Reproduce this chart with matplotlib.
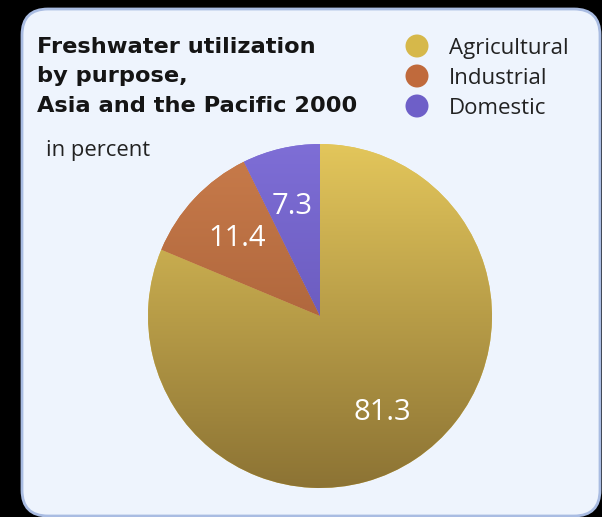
import matplotlib
matplotlib.use("Agg")
import matplotlib.pyplot as plt
import numpy as np
from matplotlib.patches import FancyBboxPatch, Circle
from matplotlib.colors import LinearSegmentedColormap

categories = ["Agricultural", "Industrial", "Domestic"]
values = [81.3, 11.4, 7.3]
value_labels = ["81.3", "11.4", "7.3"]
top_colors = ["#E3C65B", "#C97C4B", "#7E6ED6"]
bottom_colors = ["#8C7334", "#985330", "#5A4BAA"]
legend_colors = ["#D6B84A", "#C06A3C", "#6E5FC8"]
title_lines = ["Freshwater utilization", "by purpose,", "Asia and the Pacific 2000"]

W, H = 602, 517
fig = plt.figure(figsize=(W / 100, H / 100), dpi=100)
fig.patch.set_facecolor("black")
ax = fig.add_axes([0, 0, 1, 1])
ax.set_xlim(0, W)
ax.set_ylim(0, H)
ax.axis("off")

def Y(y):
    return H - y

panel = FancyBboxPatch((22, Y(516)), 578, 507,
                       boxstyle="round,pad=0,rounding_size=26",
                       facecolor="#EEF4FD", edgecolor="#A9BCE2", linewidth=2.0)
ax.add_patch(panel)

cx, cy, r = 320, Y(316), 172
wedges, _ = ax.pie(values, startangle=90, counterclock=False, radius=r,
                   center=(cx, cy), colors=top_colors, frame=True,
                   wedgeprops=dict(linewidth=0))
ax.set_xlim(0, W)
ax.set_ylim(0, H)
ax.set_aspect("equal")
ax.axis("off")

grad = np.linspace(0, 1, 256).reshape(-1, 1)
for w, tc, bc in zip(wedges, top_colors, bottom_colors):
    cmap = LinearSegmentedColormap.from_list("g", [tc, bc])
    im = ax.imshow(grad, cmap=cmap, extent=(cx - r, cx + r, cy - r, cy + r),
                   origin="upper", aspect="auto", zorder=w.get_zorder() + 0.1)
    im.set_clip_path(w)
ax.set_xlim(0, W)
ax.set_ylim(0, H)

label_pos = [(382, 412), (237, 238), (292, 207)]
for (x, y), t in zip(label_pos, value_labels):
    ax.text(x, Y(y), t, color="white", fontsize=21, family="Open Sans",
            ha="center", va="center", zorder=10)

title_baselines = [53, 82, 112]
for t, yb in zip(title_lines, title_baselines):
    ax.text(37, Y(yb), t, fontsize=16.2, fontweight="bold", family="DejaVu Sans",
            color="#151515", ha="left", va="baseline", zorder=10)
ax.text(46, Y(156), "in percent", fontsize=15.8, family="Open Sans",
        color="#222222", ha="left", va="baseline", zorder=10)

leg_y = [46, 76, 106]
for c, lab, yy in zip(legend_colors, categories, leg_y):
    ax.add_patch(Circle((417, Y(yy)), 11.5, facecolor=c, edgecolor="none", zorder=10))
    ax.text(449, Y(yy + 8), lab, fontsize=16, family="Open Sans", color="#222222",
            ha="left", va="baseline", zorder=10)

fig.savefig("out.png", dpi=100, facecolor=fig.get_facecolor())
